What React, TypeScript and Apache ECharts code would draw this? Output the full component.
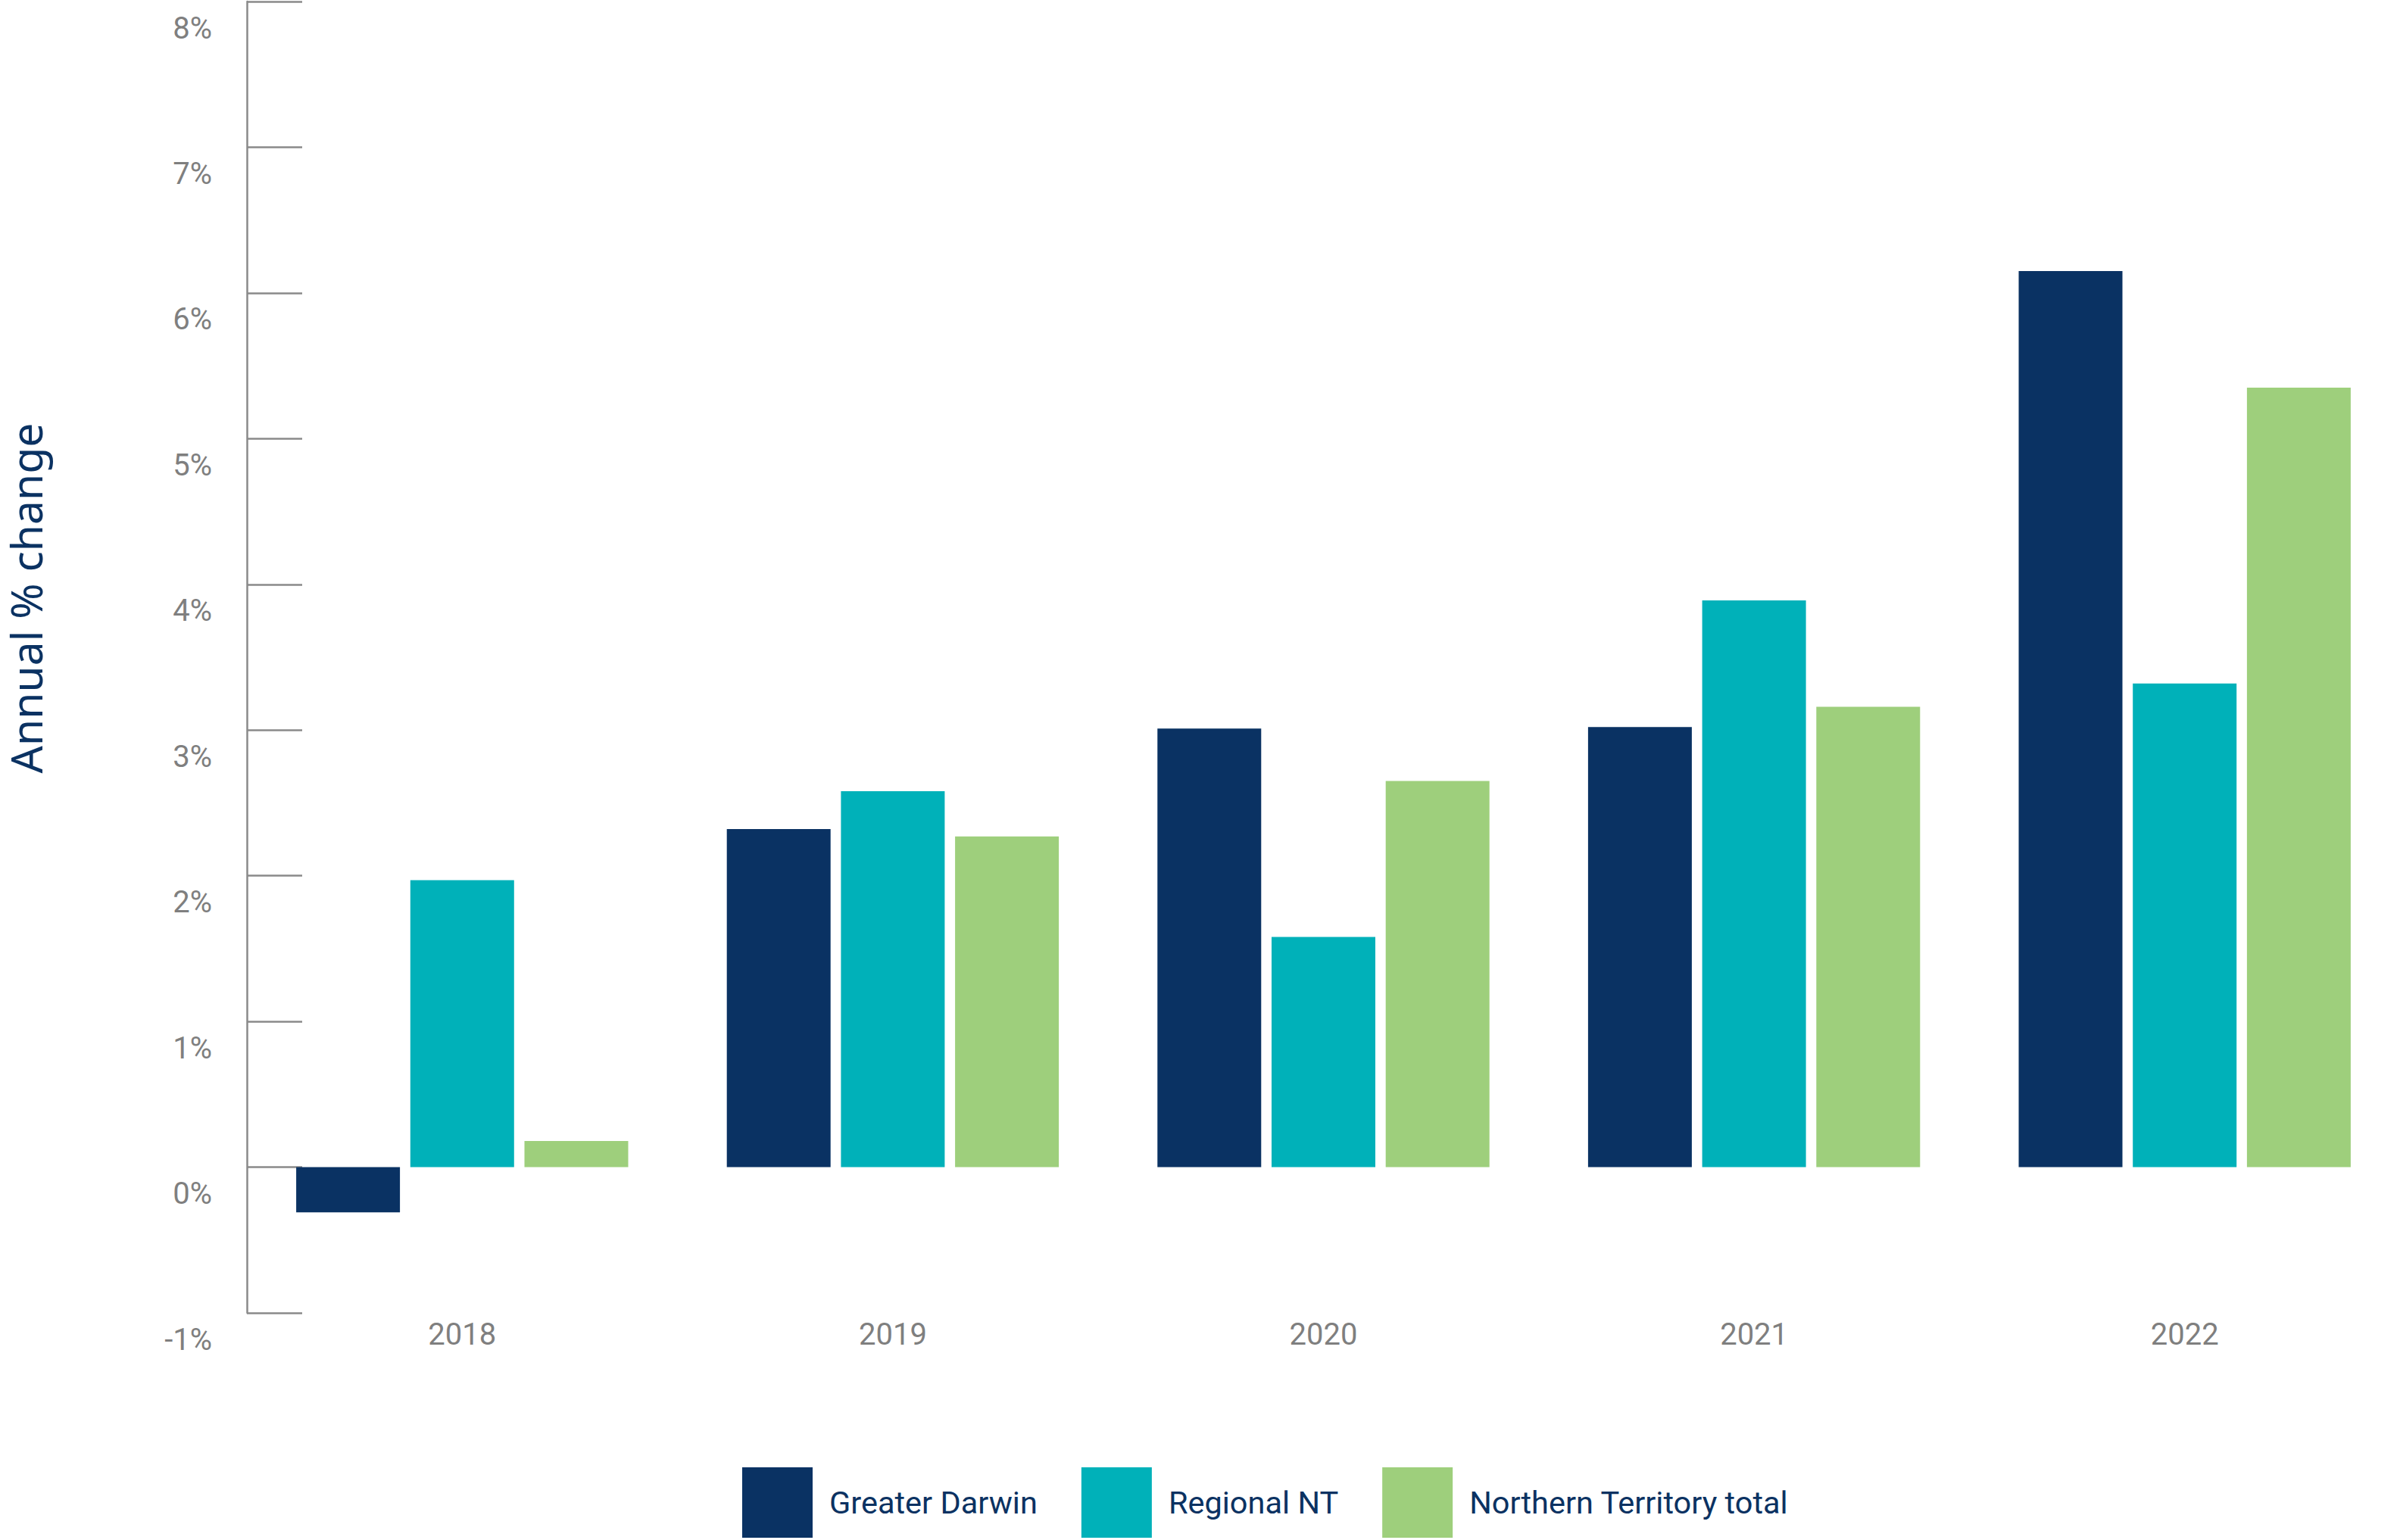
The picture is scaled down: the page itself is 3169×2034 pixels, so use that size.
import React, { useEffect, useRef } from "react";
import * as echarts from "echarts";

const categories = ["2018", "2019", "2020", "2021", "2022"];
const seriesNames = ["Greater Darwin", "Regional NT", "Northern Territory total"];
const greaterDarwin = [-0.31, 2.32, 3.01, 3.02, 6.15];
const regionalNT = [1.97, 2.58, 1.58, 3.89, 3.32];
const ntTotal = [0.18, 2.27, 2.65, 3.16, 5.35];
const colors = ["#0a3263", "#00b1b9", "#9ecf7c"];
const yTitle = "Annual % change";

export default function App() {
  const ref = useRef<HTMLDivElement>(null);
  useEffect(() => {
    if (!ref.current) return;
    const chart = echarts.init(ref.current, null, { renderer: "svg" });
    const axisGrey = "#8a8a8a";
    const labelGrey = "#7f7f7f";
    const navy = "#0b3262";
    const data = [greaterDarwin, regionalNT, ntTotal];
    chart.setOption({
      animation: false,
      backgroundColor: "#ffffff",
      grid: {
        left: 326,
        top: 2,
        right: 0,
        bottom: 300,
        containLabel: false,
        outerBoundsMode: "none",
      },
      xAxis: {
        type: "category",
        data: categories,
        position: "bottom",
        axisLine: { show: false, onZero: false },
        axisTick: { show: false },
        splitLine: { show: false },
        axisLabel: {
          margin: 8,
          color: labelGrey,
          fontSize: 40,
          fontFamily: "Roboto",
        },
      },
      yAxis: {
        type: "value",
        min: -1,
        max: 8,
        interval: 1,
        axisLine: { show: true, lineStyle: { color: axisGrey, width: 2.5 } },
        axisTick: {
          show: true,
          inside: true,
          length: 73,
          lineStyle: { color: axisGrey, width: 2.5 },
        },
        splitLine: { show: false },
        axisLabel: {
          margin: 46,
          color: labelGrey,
          fontSize: 40,
          fontFamily: "Roboto",
          verticalAlign: "top",
          lineHeight: 70,
          formatter: (v: number) => `${v}%`,
        },
      },
      legend: {
        data: seriesNames,
        left: 980,
        top: 1938,
        padding: 0,
        itemWidth: 93,
        itemHeight: 93,
        itemGap: 58,
        icon: "rect",
        textStyle: {
          color: navy,
          fontSize: 41.5,
          fontFamily: "Roboto",
          padding: [0, 0, 0, 17],
        },
      },
      graphic: [
        {
          type: "text",
          x: 34,
          y: 790,
          rotation: Math.PI / 2,
          style: {
            text: yTitle,
            fill: navy,
            fontSize: 57,
            lineHeight: 57,
            fontFamily: "Noto Sans",
            align: "center",
            verticalAlign: "middle",
          },
        },
      ],
      series: seriesNames.map((name, i) => ({
        name,
        type: "bar",
        data: data[i],
        barWidth: 137,
        barGap: "10%",
        itemStyle: { color: colors[i] },
      })),
    });
    return () => chart.dispose();
  }, []);
  return (
    <div
      ref={ref}
      style={{ position: "fixed", left: 0, top: 0, width: 3169, height: 2034, background: "#fff" }}
    />
  );
}
